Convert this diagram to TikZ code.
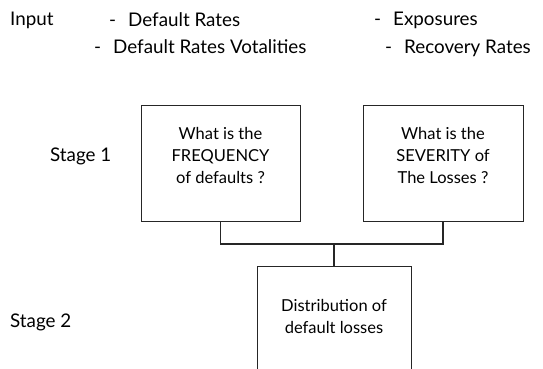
\documentclass[tikz,border=0pt]{standalone}
\usepackage{fontspec}
\setmainfont{Lato}
\begin{document}
\begin{tikzpicture}[x=1pt,y=-1pt,
  box/.style={draw=black!85,line width=0.8pt,inner sep=0pt},
  boxtext/.style={align=center,inner sep=0pt,font=\fontsize{16.5}{22}\selectfont},
  plain/.style={inner sep=0pt,font=\fontsize{18.8}{22}\selectfont},
  link/.style={draw=black!85,line width=1.1pt}]
\useasboundingbox (0,0) rectangle (543,369);
\clip (0,0) rectangle (543,369);
% Eingaben
\node[plain,anchor=west] (input) at (10,20) {Input};
\node[plain,anchor=west] (rates) at (109,20) {-\hspace{12pt}Default Rates};
\node[plain,anchor=west] (expo) at (374,20) {-\hspace{12pt}Exposures};
\node[plain,anchor=west] (vola) at (94,47) {-\hspace{12pt}Default Rates Votalities};
\node[plain,anchor=west] (recov) at (385,48) {-\hspace{12pt}Recovery Rates};
% Stufen
\node[plain,anchor=west] (stage1) at (50,156) {Stage 1};
\node[plain,anchor=west] (stage2) at (10,322) {Stage 2};
% Kaesten
\node[box,minimum width=159,minimum height=116] (freq) at (220.5,163) {};
\node[boxtext] (freqtxt) at (220.5,155) {What is the\\FREQUENCY\\of defaults ?};
\node[box,minimum width=160,minimum height=116] (sev) at (443,163) {};
\node[boxtext] (sevtxt) at (443,155) {What is the\\SEVERITY of\\The Losses ?};
\node[box,minimum width=154,minimum height=150,anchor=north] (dist) at (334,266) {};
\node[boxtext] (disttxt) at (334,316) {Distribution of\\default losses};
% Verbindungen
\coordinate (join) at (dist.north |- 0,244);
\draw[link] (freq.south) |- (join) -| (sev.south);
\draw[link] (join) -- (dist.north);
\end{tikzpicture}
\end{document}
